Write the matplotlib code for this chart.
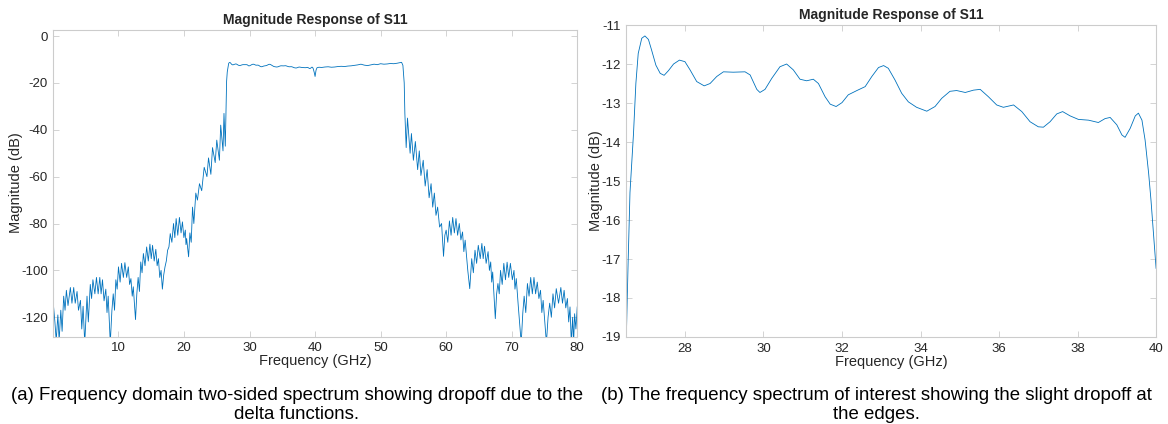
import matplotlib
matplotlib.use("Agg")
from matplotlib import pyplot as plt

plt.rcParams['font.family'] = ['Liberation Sans', 'DejaVu Sans']
plt.rcParams['axes.unicode_minus'] = False

# ---- (b) zoomed pass band, 26.5 - 40 GHz ----
band_f = [26.5, 26.55, 26.6, 26.69, 26.75, 26.81, 26.9, 26.98, 27.07, 27.15, 27.26,
          27.37, 27.47, 27.58, 27.71, 27.86, 28.0, 28.13, 28.3, 28.49, 28.64, 28.81,
          28.98, 29.23, 29.53, 29.66, 29.83, 29.91, 30.04, 30.21, 30.42, 30.59, 30.76,
          30.93, 31.1, 31.27, 31.4, 31.57, 31.7, 31.85, 32.0, 32.16, 32.38, 32.59,
          32.76, 32.93, 33.06, 33.18, 33.35, 33.52, 33.69, 33.9, 34.16, 34.37, 34.54,
          34.75, 34.92, 35.14, 35.35, 35.52, 35.73, 35.94, 36.11, 36.37, 36.58, 36.79,
          37.0, 37.13, 37.3, 37.47, 37.62, 37.81, 38.02, 38.28, 38.53, 38.7, 38.83,
          39.0, 39.13, 39.21, 39.34, 39.47, 39.55, 39.64, 39.72, 39.81, 39.87, 39.93,
          40.0]
band_db = [-19.3, -17.2, -15.3, -13.78, -12.5, -11.73, -11.34, -11.28, -11.37, -11.64,
           -12.03, -12.24, -12.29, -12.17, -12.0, -11.9, -11.94, -12.15, -12.45, -12.56,
           -12.5, -12.32, -12.2, -12.21, -12.2, -12.28, -12.65, -12.73, -12.65, -12.37,
           -12.07, -12.0, -12.15, -12.39, -12.43, -12.39, -12.5, -12.84, -13.03, -13.09,
           -12.99, -12.79, -12.68, -12.58, -12.32, -12.09, -12.04, -12.11, -12.41, -12.75,
           -12.97, -13.11, -13.21, -13.09, -12.88, -12.7, -12.68, -12.73, -12.67, -12.65,
           -12.84, -13.05, -13.11, -13.05, -13.22, -13.48, -13.61, -13.62, -13.48, -13.28,
           -13.22, -13.33, -13.42, -13.44, -13.5, -13.4, -13.37, -13.56, -13.82, -13.88,
           -13.65, -13.33, -13.26, -13.44, -13.95, -14.8, -15.49, -16.3, -17.24]

# ---- (a) two-sided spectrum, lower skirt 0 - 26.3 GHz ----
low_f = [0.1, 0.3, 0.5, 0.75, 0.95, 1.2, 1.4, 1.64, 1.85, 2.05, 2.3, 2.66, 2.9, 3.17,
         3.4, 3.68, 3.9, 4.2, 4.4, 4.6, 4.85,
         5.2, 5.4, 5.7, 5.9, 6.1, 6.4, 6.64, 6.9, 7.15, 7.35, 7.56, 7.8, 8.07, 8.25,
         8.43, 8.75,
         9.0, 9.2, 9.4, 9.6, 9.8, 10.0, 10.25, 10.47, 10.75, 10.98, 11.25, 11.5, 11.7,
         11.9, 12.1, 12.26, 12.6,
         12.8, 13.0, 13.2, 13.4, 13.6, 13.8, 14.05, 14.3, 14.55, 14.8, 15.0, 15.2,
         15.45, 15.7, 15.9, 16.1, 16.3, 16.5, 16.7,
         16.9, 17.1, 17.3, 17.5, 17.7, 17.9, 18.15, 18.4, 18.6, 18.8, 19.05, 19.3,
         19.55, 19.76, 19.98, 20.2, 20.3, 20.4, 20.7,
         20.9, 21.1, 21.3, 21.5, 21.8, 22.05, 22.36, 22.7, 23.08, 23.5, 23.74, 24.1,
         24.35, 24.76, 25.0, 25.4, 25.6, 25.95, 26.1, 26.3]
low_db = [-115.6, -122, -130, -119, -130, -117, -126, -111, -117, -108.5, -115, -107.3,
          -114, -107.3, -114, -109, -117, -112.8, -125, -115.3, -131,
          -111, -122, -106, -112, -104, -110, -103, -110, -103, -110, -104, -113, -108,
          -118, -111, -131,
          -117, -110, -117, -104, -108, -98.5, -105, -97, -103, -96.7, -103, -98.5, -106,
          -103.5, -111, -107, -121,
          -110, -103, -109, -96.4, -101, -92.8, -98, -90, -96, -88.8, -95, -89.3, -96,
          -91, -98, -95, -103, -100, -108,
          -102, -98.5, -96, -91.4, -90, -84.3, -88, -80, -86, -77.9, -85, -77.4, -84,
          -79.3, -86, -82.8, -89, -86.4, -94.2,
          -84, -88, -73, -80, -67, -70, -63, -66, -56, -60, -52, -59, -47.6, -54, -44.4,
          -53, -38, -49, -33, -47]

# ---- (a) upper half of pass band, 40 - 53.4 GHz ----
high_band_f = [40.15, 40.3, 40.6, 41.0, 41.5, 42.0, 42.5, 43.0, 43.5, 44.0, 44.5, 45.0,
               45.5, 46.0, 46.5, 47.0, 47.5, 48.0, 48.5, 49.0, 49.5, 50.0, 50.5, 51.0,
               51.5, 52.0, 52.5, 53.0, 53.2, 53.4]
high_band_db = [-14.5, -13.5, -13.3, -13.4, -13.2, -13.1, -13.3, -13.2, -13.0, -12.9,
                -13.0, -12.8, -12.7, -12.5, -12.3, -12.0, -12.4, -12.6, -12.3, -12.0,
                -12.2, -11.8, -12.0, -11.9, -11.7, -11.8, -11.6, -11.3, -11.2, -12.5]

# ---- (a) upper skirt 53.6 - 80 GHz ----
high_f = [53.6, 53.7, 53.9, 54.1, 54.5, 54.7, 55.0, 55.3, 55.65, 55.9, 56.15, 56.5, 56.8,
          57.1, 57.4, 57.7, 57.95, 58.2, 58.45, 58.7, 59.0,
          59.3, 59.6, 59.8, 60.0, 60.25, 60.5, 60.75, 61.0, 61.25, 61.5, 61.75, 62.0,
          62.25, 62.5, 62.7, 62.9, 63.3, 63.6,
          63.9, 64.15, 64.4, 64.65, 64.9, 65.2, 65.45, 65.65, 65.86, 66.1, 66.4, 66.6,
          66.8, 66.95, 67.1, 67.5,
          67.7, 67.9, 68.1, 68.3, 68.55, 68.8, 69.05, 69.3, 69.55, 69.8, 70.1, 70.35,
          70.5, 70.7, 71.0, 71.45,
          71.7, 71.9, 72.15, 72.4, 72.65, 72.9, 73.15, 73.4, 73.65, 73.9, 74.15, 74.4,
          74.6, 74.8, 75.3,
          75.55, 75.8, 76.05, 76.3, 76.55, 76.8, 77.15, 77.5, 77.75, 78.0, 78.25, 78.5,
          78.7, 78.9, 79.1, 79.3, 79.45, 79.6, 79.8, 80.0]
high_db = [-20, -33, -47.6, -35, -50, -41.6, -53, -45, -57, -49, -59.5, -53, -64, -57,
           -69, -63, -73, -67, -76.5, -73, -81.5,
           -80, -94, -85, -82.8, -88, -78.9, -85, -77.4, -84, -77.9, -85, -80, -87,
           -83.6, -92, -87.1, -100, -107.8,
           -95, -101, -91.4, -97, -89.3, -95, -88.5, -95, -89.7, -97, -92, -100, -96.4,
           -105, -100.7, -120.6,
           -110, -105.6, -110, -100, -106, -97, -104, -96.5, -103, -97, -104, -100, -108,
           -103.5, -115, -131,
           -118, -111, -118, -105.6, -111, -103, -110, -103, -110, -105, -112, -108.5,
           -118, -112.8, -131,
           -120, -114, -120, -110, -116, -107.8, -114, -107.3, -114, -108.5, -116, -112,
           -122, -115.6, -131, -120, -131, -118.5, -125, -115.6]

full_f = low_f + band_f + high_band_f + high_f
full_db = low_db + band_db + high_band_db + high_db

line_color = '#0072BD'
frame_color = '#cccccc'
text_color = '#262626'


def style_axes(ax, ylabel_x):
    for s in ax.spines.values():
        s.set_color(frame_color)
        s.set_linewidth(0.8)
    ax.tick_params(direction='in', length=4, width=0.6, color=frame_color,
                   labelcolor=text_color, labelsize=9.5, top=True, right=True, pad=4)
    ax.set_xlabel("Frequency (GHz)", fontsize=10.5, color=text_color, labelpad=0)
    ax.set_ylabel("Magnitude (dB)", fontsize=10.5, color=text_color)
    ax.yaxis.set_label_coords(ylabel_x, 0.5)
    ax.set_title("Magnitude Response of S11", fontsize=10, fontweight='bold',
                 color=text_color, pad=4)


fig = plt.figure(figsize=(11.68, 4.24), dpi=100)

ax1 = fig.add_axes([0.0456, 0.2059, 0.4486, 0.7245])
ax1.plot(full_f, full_db, color=line_color, linewidth=0.6)
ax1.set_xlim(0.05, 80)
ax1.set_ylim(-128.3, 2.8)
ax1.set_xticks([10, 20, 30, 40, 50, 60, 70, 80])
ax1.set_yticks([0, -20, -40, -60, -80, -100, -120])
style_axes(ax1, -0.058)

ax2 = fig.add_axes([0.536, 0.2052, 0.4538, 0.7358])
ax2.plot(band_f, band_db, color=line_color, linewidth=0.6)
ax2.set_xlim(26.5, 40)
ax2.set_ylim(-19, -11)
ax2.set_xticks([28, 30, 32, 34, 36, 38, 40])
ax2.set_yticks([-11, -12, -13, -14, -15, -16, -17, -18, -19])
style_axes(ax2, -0.043)

fig.text(0.254, 1 - 405 / 424,
         "(a) Frequency domain two-sided spectrum showing dropoff due to the\ndelta functions.",
         ha='center', va='center', fontsize=13.4, color='black', linespacing=1.15)
fig.text(0.750, 1 - 405 / 424,
         "(b) The frequency spectrum of interest showing the slight dropoff at\nthe edges.",
         ha='center', va='center', fontsize=13.4, color='black', linespacing=1.15)

fig.savefig('out.png', dpi=100)
